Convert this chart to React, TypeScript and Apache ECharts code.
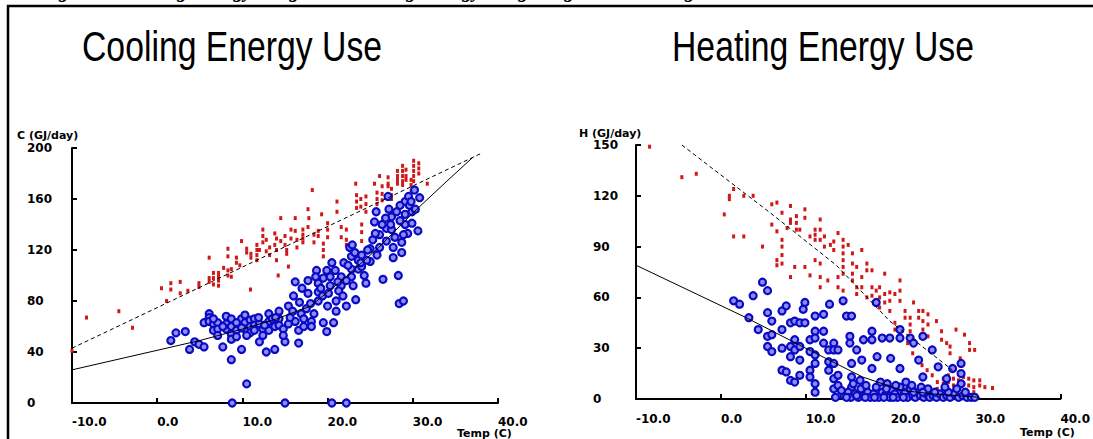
import React, { useEffect, useRef } from "react";
import * as echarts from "echarts";

// ---- Axis ticks ----
const tempTicks = { min: -10, max: 40, interval: 10 };
const coolTicks = { min: 0, max: 200, interval: 40 };
const heatTicks = { min: 0, max: 150, interval: 30 };

const titles = ["Cooling Energy Use", "Heating Energy Use"];
const yNames = ["C (GJ/day)", "H (GJ/day)"];
const xName = "Temp (C)";
const caption = "Figure 6. Cooling Energy Usage and Heating Energy Usage Regression Fitting";

// ---- Cooling: red (small marks) ----
const coolRed: number[][] = [
  [-10, 41], [-8.3, 67], [-4.5, 72], [-2.9, 59],
  [0.5, 90], [1.1, 80], [1.6, 94], [1.6, 89], [2.7, 95], [2.7, 86], [3.6, 88], [4.9, 94], [4.9, 91],
  [6.1, 114], [6.1, 98], [6.1, 95], [6.6, 102], [6.6, 98], [6.6, 93], [7.2, 102], [7.2, 99], [7.2, 96], [7.2, 92],
  [7.8, 106], [8.3, 121], [8.3, 115], [8.3, 104], [8.3, 100], [8.7, 105], [8.7, 99], [9.3, 114], [9.3, 110],
  [9.7, 108], [9.9, 127], [10.5, 121], [10.5, 118], [11, 117], [11, 114], [10.95, 89], [11.7, 124], [11.7, 120],
  [11.7, 116], [11.7, 112], [12, 120], [12.4, 136], [12.4, 131], [12.4, 126], [12.8, 128], [12.8, 119], [13.2, 116],
  [13.2, 122], [13.8, 133], [13.8, 124], [14, 129], [14, 120], [14, 112], [14.2, 100], [14.5, 145], [14.5, 127],
  [15, 131], [15, 124], [15.2, 120], [15.2, 117], [15.4, 107], [15.7, 136], [15.7, 129], [16.2, 145], [16.2, 135],
  [16.4, 128], [16.4, 122], [17.1, 136], [17.1, 132], [17.1, 129], [17.1, 126], [17.7, 152], [17.7, 138], [17.8, 145],
  [18.2, 167], [18.4, 132], [18.4, 126], [18.9, 135], [18.9, 131], [19.3, 148], [19.5, 125], [19.5, 120], [19.5, 115],
  [20, 141], [20, 136], [20, 130], [21.1, 158], [21.1, 150], [21.6, 138], [21.6, 130], [22.2, 136], [22.2, 128],
  [22.2, 124], [23.3, 172], [23.4, 163], [23.4, 158], [23.4, 153], [23.9, 160], [23.9, 154], [24, 140], [24, 134],
  [24, 127], [24.5, 162], [24.5, 156], [24.5, 150], [25.5, 172], [25.8, 165], [25.8, 160], [25.8, 156], [26.1, 178],
  [26.4, 170], [26.4, 164], [26.4, 159], [27.1, 177], [27.1, 172], [27.1, 170], [27.5, 168], [27.5, 163], [27.5, 160],
  [28.2, 182], [28.2, 178], [28.2, 175], [28.2, 172], [28.8, 186], [28.8, 182], [28.8, 178], [28.8, 174], [28.8, 171],
  [29.2, 183], [29.2, 178], [29.2, 175], [29.8, 175], [29.8, 171], [29.8, 166], [30.1, 190], [30.1, 186], [30.1, 182],
  [30.1, 178], [30.1, 174], [30.7, 188], [30.7, 184], [30.7, 180], [31.7, 172],
];

// ---- Cooling: blue (circles) ----
const coolBlue: number[][] = [
  [1.6, 49], [2.2, 55], [3.3, 56], [3.8, 42], [4.4, 48], [4.9, 46], [5.5, 44], [5.5, 63], [6.1, 70], [6.1, 67],
  [6.1, 64], [6.6, 62], [6.6, 57], [7.1, 63], [7.1, 58], [7.1, 53], [7.7, 44], [8.1, 68], [8.1, 62], [8.1, 58],
  [8.7, 34], [8.7, 66], [8.7, 60], [8.7, 54], [8.7, 50], [9.3, 57], [9.3, 52], [9.9, 42], [9.9, 66], [10.3, 69],
  [10.3, 63], [10.3, 58], [10.5, 15], [10.9, 65], [10.9, 60], [10.9, 55], [11.4, 66], [11.4, 61], [11.4, 57], [12, 48],
  [12, 62], [12.4, 58], [12.8, 40], [13.1, 70], [13.1, 64], [13.1, 57], [13.8, 42], [13.8, 60], [14.3, 72], [14.3, 66],
  [14.3, 61], [14.8, 58], [15, 48], [15.4, 76], [15.4, 62], [16.2, 95], [16.6, 47], [16.6, 57], [16.7, 79], [16.9, 70],
  [17.2, 66], [17.2, 60], [17.7, 96], [17.7, 86], [18.1, 64], [18.1, 60], [18.7, 104], [18.9, 94], [18.9, 87], [18.9, 80],
  [19.5, 63], [19.9, 56], [19.5, 98], [20.3, 99], [20.3, 92], [20.5, 110], [20.7, 63], [21, 80], [21, 72], [21.6, 99],
  [21.6, 92], [22.2, 76], [22.6, 122], [22.8, 115], [22.8, 105], [22.8, 99], [23.3, 81], [23.6, 112], [23.6, 105],
  [24, 116], [24, 107], [24.5, 94], [25, 121], [25, 111], [25.5, 142], [25.7, 150], [26.1, 132], [26.1, 122], [26.5, 97],
  [26.9, 137], [26.9, 127], [27.1, 162], [27.5, 146], [27.5, 136], [27.7, 114], [27.7, 122], [28.3, 100], [28.4, 78],
  [28.9, 80], [28.7, 126], [28.7, 118], [29.1, 158], [29.1, 148], [29.1, 140], [29.5, 162], [29.9, 150], [29.9, 141],
  [30.2, 167], [30.6, 135], [30.8, 161], [29.6, 155],
  [6.6, 66], [7.7, 60], [9.3, 63], [9.9, 59], [10.5, 53], [11.9, 67], [12.4, 53], [13.5, 66], [14.8, 53], [15.9, 72],
  [16.2, 64], [17.5, 74], [18.4, 70], [19.2, 90], [19.9, 104], [21.3, 88], [21.9, 110], [22.2, 96], [23, 92], [24.3, 100],
  [25.3, 128], [25.8, 116], [26.4, 140], [27.2, 152], [27.9, 130], [28.5, 143], [28.5, 155], [29.4, 133], [30.3, 152],
  [28.1, 150],
  [16, 84], [17, 90], [18, 78], [19.4, 84], [20, 76], [20.9, 104], [21.2, 95], [22.4, 108], [23.2, 118], [23.9, 110],
  [24.7, 120], [25.6, 133], [26.8, 145], [27.4, 140], [28.9, 132], [29.8, 158], [12.6, 61], [13.9, 67], [15.6, 67],
  [18.6, 99], [20.1, 86], [21.8, 84], [22.9, 124], [24.6, 112],
  [8.8, 0], [15, 0], [20.5, 0], [22.2, 0],
];

// ---- Cooling fitted lines ----
const coolRedFit: number[][] = [[-10, 43], [38.1, 196]];
const coolBlueFit: number[][] = [
  [-10, 26], [5, 49], [10, 58], [14, 66], [18, 76], [22, 98], [26, 122], [30, 149], [34, 174], [37.1, 193],
];

// ---- Heating: red (small marks) ----
const heatRed: number[][] = [
  [-8.4, 149], [-4.6, 131], [-2.9, 133], [0.4, 109], [1, 120], [1, 118], [1.5, 124], [1.5, 96], [2.7, 96], [2.7, 120],
  [3.8, 120], [4.9, 90], [6, 115], [6.6, 116], [6, 103], [6.6, 99], [6.6, 79], [6.6, 82], [7.2, 110], [7.2, 94],
  [7.2, 90], [7.2, 85], [7.2, 80], [7.8, 101], [8.2, 114], [8.2, 106], [8.2, 104], [8.2, 72], [8.7, 78], [8.9, 108],
  [8.9, 104], [8.9, 100], [9.3, 100], [9.9, 112], [9.9, 107], [9.9, 78], [10.5, 96], [10.5, 73], [11.1, 100],
  [11.1, 97], [11.1, 94], [11.1, 82], [11.7, 106], [11.7, 100], [11.7, 94], [11.7, 80], [11.7, 72], [11.7, 66],
  [12.2, 96], [12.2, 90], [12.6, 70], [12.9, 91], [13.3, 93], [13.3, 88], [13.8, 98], [13.8, 72], [13.8, 66],
  [14.4, 94], [14.4, 90], [14.4, 86], [14.4, 82], [14.4, 78], [14.4, 74], [14.4, 64], [15, 91], [15.5, 86], [15.5, 80],
  [15.5, 74], [15.5, 70], [16, 78], [16, 66], [16, 62], [16.6, 88], [16.6, 72], [16.6, 66], [17.2, 80], [17.2, 76],
  [17.2, 60], [17.8, 76], [17.8, 66], [17.8, 61], [18.3, 64], [18.7, 66], [18.7, 60], [18.7, 54], [19.3, 74],
  [19.3, 62], [19.3, 57], [19.9, 63], [19.9, 58], [19.9, 52], [20.5, 62], [20.5, 45], [20.5, 41], [21.1, 70],
  [21.1, 64], [21.1, 58], [21.7, 52], [21.7, 48], [22.3, 48], [22.3, 44], [22.3, 40], [22.7, 57], [23.3, 52],
  [23.3, 48], [23.8, 52], [23.8, 46], [23.8, 41], [24.4, 50], [24.4, 44], [24.4, 37], [25, 29], [25.4, 46], [26, 40],
  [26, 35], [26.6, 33], [27, 31], [27, 27], [27.7, 41], [28.2, 24], [28.7, 38], [29.3, 33], [29.3, 29], [29.9, 29],
  [30.5, 11], [30.5, 8], [31.1, 7], [32, 6.5],
  [26.2, 12], [26.2, 9], [26.2, 6], [26.8, 14], [26.8, 10], [27.4, 12], [27.4, 8], [27.4, 5], [28, 11], [28, 7],
  [28.6, 13], [28.6, 9], [28.6, 5], [29.2, 12], [29.2, 8], [29.8, 11], [29.8, 7], [29.8, 4], [25.5, 10], [25.5, 6],
  [24.9, 14], [24.3, 17], [23.7, 20], [23.2, 24], [22.6, 27], [22, 33],
];

// ---- Heating: blue (circles) ----
const heatBlue: number[][] = [
  [1.5, 58], [2.2, 56], [3.3, 48], [3.8, 61], [4.4, 41], [4.9, 69], [5.5, 64], [5.5, 51], [6, 46], [5.5, 37],
  [5.5, 31], [6, 38], [6, 28], [7.2, 52], [7.2, 41], [7.2, 30], [7.2, 17], [7.7, 55], [7.7, 16], [8.2, 45], [8.2, 31],
  [8.2, 25], [8.2, 11], [8.7, 46], [8.7, 35], [8.7, 29], [8.7, 10], [9.3, 45], [9.3, 31], [9.3, 23], [9.3, 14],
  [9.7, 53], [9.9, 57], [9.9, 45], [10.5, 35], [10.5, 28], [10.5, 17], [10.5, 13], [11.1, 49], [11.1, 40], [11.1, 36],
  [11.1, 26], [11.1, 21], [11.1, 9], [11.1, 4], [12.1, 50], [12.8, 56], [12.1, 40], [12.1, 33], [12.7, 29], [12.7, 22],
  [12.7, 17], [13.3, 33], [13.3, 29], [13.3, 21], [13.3, 12], [13.3, 6], [13.8, 29], [13.8, 14], [13.8, 8], [14.4, 58],
  [14.8, 49], [15.4, 49], [15.2, 37], [15.2, 33], [15.4, 21], [15.4, 13], [15.4, 7], [16, 29], [16.6, 23], [16.8, 35],
  [17.8, 18], [18.3, 57], [17.8, 40], [17.8, 35], [18.4, 25], [19, 36], [19.9, 36], [20, 24], [21.1, 41], [21.1, 36],
  [21.1, 18], [22.3, 36], [22.7, 33], [23.3, 23], [23.8, 37], [23.8, 13], [24.9, 29], [25.6, 19], [26.6, 12],
  [27.3, 18], [28.3, 21], [28.3, 15], [28.3, 9],
  [13.5, 1], [14.5, 2], [15, 4], [15.3, 1], [15.8, 3], [16.2, 1], [16.5, 6], [16.9, 2], [17.3, 4], [17.6, 1], [18, 3],
  [18.3, 7], [18.6, 1], [19, 4], [19.3, 2], [19.6, 9], [19.9, 1], [20.2, 5], [20.5, 3], [20.8, 1], [21.1, 7], [21.4, 2],
  [21.7, 4], [22, 1], [22.3, 6], [22.6, 2], [22.9, 1], [23.2, 4], [23.5, 2], [23.9, 1], [24.2, 3], [24.6, 1], [25, 2],
  [25.4, 1], [25.8, 3], [26.2, 1], [26.6, 2], [27, 1], [27.5, 3], [28, 1], [28.5, 2], [29, 1], [29.5, 1], [15.6, 9],
  [16.4, 11], [17.1, 8], [18.8, 10], [19.5, 6], [20.6, 8], [21.8, 10], [22.5, 8], [23.6, 7], [24.4, 6], [14.2, 5],
  [14.8, 1], [16, 2], [17, 1], [18.1, 1], [19.2, 1], [20.3, 1], [21.5, 1], [22.7, 4], [23.8, 4], [25.2, 4], [26.8, 4],
  [28.8, 4], [29.9, 1], [27.8, 6], [26.4, 7],
];

// ---- Heating fitted lines ----
const heatRedFit: number[][] = [[-4.6, 150], [5.8, 110], [13.6, 79], [19.9, 46], [27.3, 17]];
const heatBlueFit: number[][] = [[-10, 79], [3, 48], [9.6, 31], [16.7, 13], [21.4, 5], [25, 3], [30.5, 1]];

const RED = "#d01818";
const BLUE_FILL = "#8c8cff";
const BLUE_EDGE = "#0a0ac0";
const LABEL_FONT = "DejaVu Sans";

function axisX(gridIndex: number, margin: number) {
  return {
    gridIndex,
    type: "value",
    ...tempTicks,
    axisLine: { show: true, onZero: false, lineStyle: { color: "#000", width: 2 } },
    axisTick: { show: true, inside: true, length: 5, lineStyle: { color: "#000", width: 2 } },
    splitLine: { show: false },
    axisLabel: {
      color: "#000",
      fontFamily: LABEL_FONT,
      fontWeight: "bold",
      fontSize: 12,
      align: "left",
      margin,
      formatter: (v: number) => v.toFixed(1),
    },
  };
}

function axisY(gridIndex: number, ticks: any, margin: number) {
  return {
    gridIndex,
    type: "value",
    ...ticks,
    axisLine: { show: true, onZero: false, lineStyle: { color: "#000", width: 2 } },
    axisTick: { show: true, inside: true, length: 5, lineStyle: { color: "#000", width: 2 } },
    splitLine: { show: false },
    axisLabel: {
      color: "#000",
      fontFamily: LABEL_FONT,
      fontWeight: "bold",
      fontSize: 12,
      align: "left",
      margin,
    },
  };
}

function redSeries(i: number, data: number[][]) {
  return {
    type: "scatter",
    xAxisIndex: i,
    yAxisIndex: i,
    data,
    symbol: "rect",
    symbolSize: [3, 4],
    itemStyle: { color: RED, opacity: 1 },
    z: 2,
  };
}

function blueSeries(i: number, data: number[][]) {
  return {
    type: "scatter",
    xAxisIndex: i,
    yAxisIndex: i,
    data,
    symbol: "circle",
    symbolSize: 7,
    itemStyle: { color: BLUE_FILL, borderColor: BLUE_EDGE, borderWidth: 2.2, opacity: 1 },
    z: 3,
  };
}

function lineSeries(i: number, data: number[][], dashed: boolean) {
  return {
    type: "line",
    xAxisIndex: i,
    yAxisIndex: i,
    data,
    symbol: "none",
    smooth: false,
    lineStyle: { color: "#000", width: 1, type: dashed ? [4, 3] : "solid" },
    z: 4,
  };
}

function titleText(x: number, text: string) {
  return {
    type: "text",
    x,
    y: 46,
    scaleX: 0.785,
    style: {
      text,
      x: 0,
      y: 0,
      fill: "#000",
      font: "43px 'Liberation Sans', Arial, sans-serif",
      textAlign: "left",
      textVerticalAlign: "middle",
    },
  };
}

function smallText(x: number, y: number, text: string) {
  return {
    type: "text",
    x,
    y,
    style: {
      text,
      fill: "#000",
      font: `bold 11px '${LABEL_FONT}'`,
      textAlign: "left",
      textVerticalAlign: "middle",
    },
  };
}

export default function App() {
  const ref = useRef<HTMLDivElement>(null);
  useEffect(() => {
    if (!ref.current) return;
    const chart = echarts.init(ref.current, null, { renderer: "svg" });
    chart.setOption({
      animation: false,
      backgroundColor: "#fff",
      grid: [
        { left: 72, top: 148, width: 426, height: 255 },
        { left: 636, top: 145, width: 425, height: 254 },
      ],
      xAxis: [axisX(0, 13), axisX(1, 14)],
      yAxis: [axisY(0, coolTicks, 45), axisY(1, heatTicks, 43)],
      series: [
        redSeries(0, coolRed),
        blueSeries(0, coolBlue),
        lineSeries(0, coolRedFit, true),
        lineSeries(0, coolBlueFit, false),
        redSeries(1, heatRed),
        blueSeries(1, heatBlue),
        lineSeries(1, heatRedFit, true),
        lineSeries(1, heatBlueFit, false),
      ],
      graphic: [
        {
          type: "text",
          x: 40,
          y: -10,
          z: 0,
          style: {
            text: caption,
            fill: "#000",
            font: "italic bold 20px 'Liberation Serif', serif",
            textAlign: "left",
            textVerticalAlign: "middle",
          },
        },
        {
          type: "rect",
          shape: { x: 8, y: 6, width: 1100, height: 500 },
          style: { fill: "none", stroke: "#000", lineWidth: 2.5 },
          silent: true,
        },
        titleText(82, titles[0]),
        titleText(672, titles[1]),
        smallText(17, 135, yNames[0]),
        smallText(579, 133, yNames[1]),
        smallText(457, 433, xName),
        smallText(1020, 432, xName),
      ],
    });
    return () => chart.dispose();
  }, []);
  return (
    <div
      ref={ref}
      style={{ position: "fixed", left: 0, top: 0, width: 1093, height: 439 }}
    />
  );
}
